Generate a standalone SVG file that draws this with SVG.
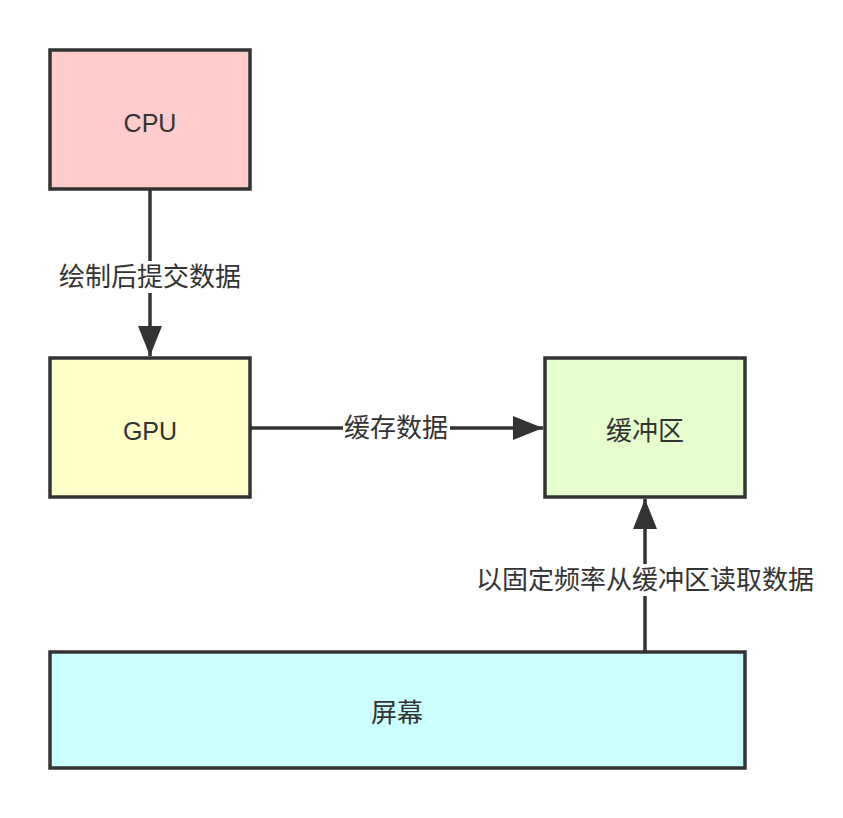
<svg xmlns="http://www.w3.org/2000/svg" width="843" height="818" viewBox="0 0 843 818">
<style>
.box{stroke:#333;stroke-width:3.5}
.t{font-family:"Liberation Sans","Noto Sans CJK SC",sans-serif;font-size:25px;fill:#333;text-anchor:middle;dominant-baseline:central}
.c{font-size:26px}
.edge{stroke:#333;stroke-width:3.5;fill:none}
.lb{fill:#fff}
</style>
<defs>
<marker id="ah" viewBox="0 0 30 24" refX="30" refY="12" markerWidth="30" markerHeight="24" markerUnits="userSpaceOnUse" orient="auto">
<path d="M0,0 L30,12 L0,24 Z" fill="#333"/>
</marker>
</defs>
<rect width="843" height="818" fill="#fff"/>
<g id="edges">
<line class="edge" x1="150" y1="190" x2="150" y2="356" marker-end="url(#ah)"/>
<rect class="lb" x="54" y="261" width="192" height="32"/>
<text class="t c" x="150" y="277">绘制后提交数据</text>
<line class="edge" x1="250" y1="428" x2="543" y2="428" marker-end="url(#ah)"/>
<rect class="lb" x="343" y="412" width="107" height="32"/>
<text class="t c" x="396" y="428">缓存数据</text>
<line class="edge" x1="645" y1="651" x2="645" y2="499" marker-end="url(#ah)"/>
<rect class="lb" x="472" y="564" width="346" height="32"/>
<text class="t c" x="645" y="580">以固定频率从缓冲区读取数据</text>
</g>
<g id="cpu">
<rect class="box" x="50" y="50" width="200" height="139" fill="#FFCCCC"/>
<text class="t" x="150" y="123">CPU</text>
</g>
<g id="gpu">
<rect class="box" x="50" y="358" width="200" height="139" fill="#FFFFCC"/>
<text class="t" x="150" y="431">GPU</text>
</g>
<g id="buffer">
<rect class="box" x="545" y="358" width="200" height="139" fill="#E6FFCC"/>
<text class="t c" x="645" y="431">缓冲区</text>
</g>
<g id="screen">
<rect class="box" x="50" y="652" width="695" height="116" fill="#CCFFFF"/>
<text class="t c" x="397" y="713">屏幕</text>
</g>
</svg>
